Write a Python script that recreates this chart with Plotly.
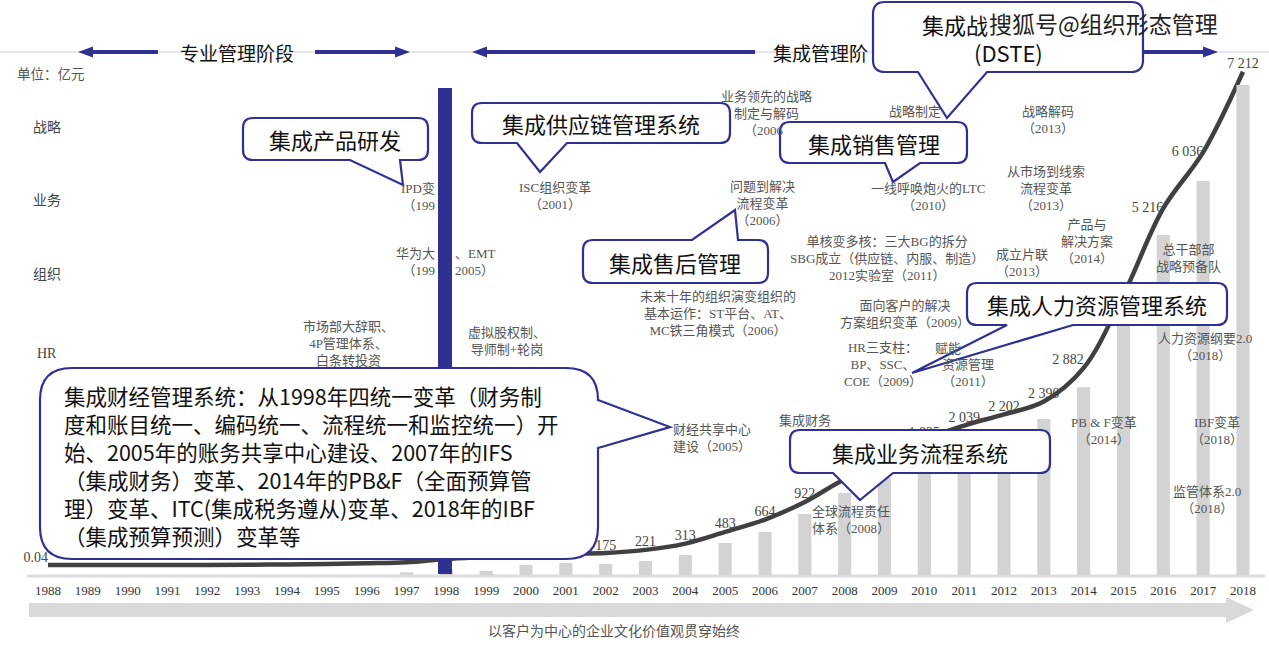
import plotly.graph_objects as go

W, H = 1269, 654
BLUE = "#2E3192"
SANS = "Noto Sans CJK SC, Noto Sans, sans-serif"
SERIF = "Liberation Serif, Noto Sans CJK SC, serif"
GREY = "#555555"

# ---------------- data ----------------
years = list(range(1988, 2019))
revenue = [0.04, 0.1, 0.2, 0.5, 1, 4, 8, 15, 26, 41, 89, 120, 150, 165, 175,
           221, 313, 483, 664, 922, 1253, 1491, 1825, 2039, 2202, 2390, 2882,
           3950, 5216, 6036, 7212]
revenue_labels = ["0.04", "", "", "", "", "", "", "", "", "", "", "", "", "",
                  "175", "221", "313", "483", "664", "922", "", "", "1 825",
                  "2 039", "2 202", "2 390", "2 882", "", "5 216", "6 036", "7 212"]
label_positions = ["top center"] * 31
label_positions[years.index(1988)] = "top left"
label_positions[years.index(2014)] = "top left"
label_positions[years.index(2016)] = "middle left"
label_positions[years.index(2017)] = "middle left"

bar_years = list(range(1997, 2019))
bar_values = [41, 89, 62, 154, 185, 169, 215, 308, 492, 662, 938, 1262, 1500,
              1830, 2040, 2200, 2400, 2890, 3950, 5230, 6060, 7540]

tick_labels = [str(y) for y in years]

# ---------------- helpers ----------------
def P(x, y):
    return f"{x / W:.5f},{1 - y / H:.5f}"

annotations = []
shapes = []

def T(text, x, y, size=13, color=GREY, family=SERIF, anchor="center"):
    annotations.append(dict(text=text, x=x / W, y=1 - y / H, xref="paper", yref="paper",
                            showarrow=False, xanchor=anchor, yanchor="middle", align=anchor if anchor != "center" else "center",
                            font=dict(size=size, color=color, family=family)))

def TL(lines, x, y0, size=13, anchor="center", **kw):
    # multi-line block, y0 = centre of first line
    dy = size * 1.3
    yc = y0 + dy * (len(lines) - 1) / 2
    T("<br>".join(lines), x, yc, size=size, anchor=anchor, **kw)

def bubble(x0, y0, x1, y1, r, tail):
    side, a, b, tx, ty = tail
    d = f"M{P(x0 + r, y0)}"
    if side == "top":
        d += f" L{P(a, y0)} L{P(tx, ty)} L{P(b, y0)}"
    d += f" L{P(x1 - r, y0)} Q{P(x1, y0)} {P(x1, y0 + r)}"
    if side == "right":
        d += f" L{P(x1, a)} L{P(tx, ty)} L{P(x1, b)}"
    d += f" L{P(x1, y1 - r)} Q{P(x1, y1)} {P(x1 - r, y1)}"
    if side == "bottom":
        d += f" L{P(b, y1)} L{P(tx, ty)} L{P(a, y1)}"
    d += f" L{P(x0 + r, y1)} Q{P(x0, y1)} {P(x0, y1 - r)}"
    d += f" L{P(x0, y0 + r)} Q{P(x0, y0)} {P(x0 + r, y0)} Z"
    shapes.append(dict(type="path", path=d, xref="paper", yref="paper",
                       fillcolor="white", line=dict(color=BLUE, width=2.2), layer="above"))

def arrow(xs, xe, y):
    dr = 1 if xe > xs else -1
    shapes.append(dict(type="line", xref="paper", yref="paper", x0=xs / W, x1=(xe - dr * 12) / W,
                       y0=1 - y / H, y1=1 - y / H, line=dict(color=BLUE, width=4), layer="above"))
    d = f"M{P(xe, y)} L{P(xe - dr * 15, y - 5.5)} L{P(xe - dr * 15, y + 5.5)} Z"
    shapes.append(dict(type="path", path=d, xref="paper", yref="paper", fillcolor=BLUE,
                       line=dict(width=0), layer="above"))

# ---------------- background shapes ----------------
shapes.append(dict(type="line", xref="paper", yref="paper", x0=0, x1=1, y0=1 - 52 / H, y1=1 - 52 / H,
                   line=dict(color="#cfcfcf", width=1), layer="below"))
shapes.append(dict(type="line", xref="paper", yref="paper", x0=27 / W, x1=1265 / W,
                   y0=1 - 576 / H, y1=1 - 576 / H, line=dict(color="#dcdcdc", width=3), layer="below"))
band = (f"M{P(29, 603)} L{P(1226, 603)} L{P(1226, 597)} L{P(1254, 610)} "
        f"L{P(1226, 623)} L{P(1226, 617)} L{P(29, 617)} Z")
shapes.append(dict(type="path", path=band, xref="paper", yref="paper", fillcolor="#d9d9d9",
                   line=dict(width=0), layer="below"))

arrow(158, 78, 52)
arrow(315, 410, 52)
arrow(755, 472, 52)
arrow(1142, 1218, 52)

# blue separator at 1998
shapes.append(dict(type="rect", xref="paper", yref="paper", x0=438 / W, x1=452 / W,
                   y0=1 - 574 / H, y1=1 - 88 / H, fillcolor=BLUE, line=dict(width=0), layer="above"))

# callout bubbles
bubble(243, 118, 428, 160, 10, ("bottom", 350, 400, 403, 185))
bubble(472, 103, 730, 143, 10, ("bottom", 517, 567, 540, 172))
bubble(873, 2, 1143, 72, 12, ("bottom", 918, 987, 947, 118))
bubble(780, 122, 967, 163, 10, ("bottom", 885, 920, 893, 182))
bubble(583, 240, 768, 283, 10, ("top", 692, 738, 735, 210))
bubble(967, 283, 1227, 325, 10, ("bottom", 1007, 1073, 912, 373))
bubble(790, 430, 1050, 473, 10, ("bottom", 833, 893, 860, 500))
bubble(40, 368, 598, 559, 32, ("right", 400, 448, 670, 427))

# ---------------- texts ----------------
T("专业管理阶段", 237, 52, size=19, color="#111", family=SANS)
T("集成管理阶", 771, 52, size=19, color="#111", family=SANS, anchor="left")
T("单位：亿元", 51, 75, size=13.5)
for s, yy in [("战略", 127), ("业务", 200), ("组织", 274), ("HR", 353)]:
    T(s, 47, yy, size=14, color="#444")
T("以客户为中心的企业文化价值观贯穿始终", 614, 631, size=14)

# event notes
TL(["业务领先的战略", "制定与解码"], 766, 97)
T("（2006", 742, 130, anchor="left")
TL(["ISC组织变革", "（2001）"], 555, 188)
TL(["问题到解决", "流程变革", "（2006）"], 762, 187)
T("战略制定", 887, 112, anchor="left")
TL(["战略解码", "（2013）"], 1048, 112)
TL(["一线呼唤炮火的LTC", "（2010）"], 928, 189)
TL(["从市场到线索", "流程变革", "（2013）"], 1046, 172)
TL(["单核变多核：三大BG的拆分", "SBG成立（供应链、内服、制造）", "2012实验室（2011）"], 887, 242)
TL(["成立片联", "（2013）"], 1022, 255)
TL(["产品与", "解决方案", "（2014）"], 1087, 225)
TL(["IPD变", "（199"], 437, 189, anchor="right")
TL(["华为大", "（199"], 437, 254, anchor="right")
TL(["、EMT", "2005）"], 453, 254, anchor="left")
TL(["市场部大辞职、", "4P管理体系、", "白条转投资"], 348, 327)
TL(["虚拟股权制、", "导师制+轮岗"], 507, 333)
TL(["未来十年的组织演变组织的", "基本运作：ST平台、AT、", "MC铁三角模式（2006）"], 718, 297)
TL(["面向客户的解决", "方案组织变革（2009）"], 905, 306)
TL(["HR三支柱：", "BP、SSC、", "COE（2009）"], 883, 348)
T("赋能", 933, 348, anchor="left")
TL(["资源管理", "（2011）"], 968, 365)
TL(["财经共享中心", "建设（2005）"], 712, 430)
T("集成财务", 805, 420)
TL(["全球流程责任", "体系（2008）"], 851, 512)
TL(["总干部部", "战略预备队"], 1188, 250)
TL(["人力资源纲要2.0", "（2018）"], 1205, 339)
TL(["PB & F变革", "（2014）"], 1104, 423)
TL(["IBF变革", "（2018）"], 1217, 423)
TL(["监管体系2.0", "（2018）"], 1207, 492)

# bubble texts
BT = dict(size=22, color="#111", family=SANS)
T("集成产品研发", 335, 139, **BT)
T("集成供应链管理系统", 601, 123, **BT)
T("集成销售管理", 874, 143, **BT)
T("集成售后管理", 675, 262, **BT)
T("集成人力资源管理系统", 1097, 304, **BT)
T("集成业务流程系统", 920, 452, **BT)
T("集成战", 920, 24, anchor="left", **BT)
T("搜狐号@组织形态管理", 987, 23, size=23, color="#222", family=SANS, anchor="left")
T("(DSTE)", 1008, 52, **BT)
fin_lines = ["集成财经管理系统：从1998年四统一变革（财务制",
             "度和账目统一、编码统一、流程统一和监控统一）开",
             "始、2005年的账务共享中心建设、2007年的IFS",
             "（集成财务）变革、2014年的PB&F（全面预算管",
             "理）变革、ITC(集成税务遵从)变革、2018年的IBF",
             "（集成预算预测）变革等"]
TL(fin_lines, 62, 396, size=21.5, anchor="left", color="#111", family=SANS)

# ---------------- traces ----------------
fig = go.Figure()
fig.add_trace(go.Bar(x=bar_years, y=bar_values, yaxis="y2", width=0.33,
                     marker=dict(color="#d3d3d3", line=dict(width=0)), hoverinfo="skip"))
fig.add_trace(go.Scatter(x=years, y=revenue, mode="lines",
                         line=dict(color="#404040", width=4.5, shape="spline", smoothing=1.0)))
fig.add_trace(go.Scatter(x=years, y=revenue, mode="text", text=revenue_labels,
                         textposition=label_positions,
                         textfont=dict(family=SERIF, size=14, color="#444")))

# axis mapping: 1988 -> 48px, 2018 -> 1243px
pxyr = (1243 - 48) / 30
x0 = 1988 - 48 / pxyr
x1 = x0 + W / pxyr
s1 = 0.0684   # px per unit for the line, baseline at 565px
s2 = 0.065    # px per unit for the bars, baseline at 575px

fig.update_layout(
    width=W, height=H, margin=dict(l=0, r=0, t=0, b=0),
    paper_bgcolor="white", plot_bgcolor="white", showlegend=False,
    xaxis=dict(range=[x0, x1], domain=[0, 1], anchor="free", position=1 - 581 / H,
               tickvals=years, ticktext=tick_labels, ticks="", showgrid=False,
               zeroline=False, showline=False,
               tickfont=dict(family=SERIF, size=13, color="#333")),
    yaxis=dict(range=[-(H - 565) / s1, 565 / s1], domain=[0, 1], visible=False),
    yaxis2=dict(range=[-(H - 575) / s2, 575 / s2], overlaying="y", visible=False),
    annotations=annotations, shapes=shapes,
)

fig.write_html("out.html", config={"displayModeBar": False},
               post_script="document.body.style.margin='0';")
